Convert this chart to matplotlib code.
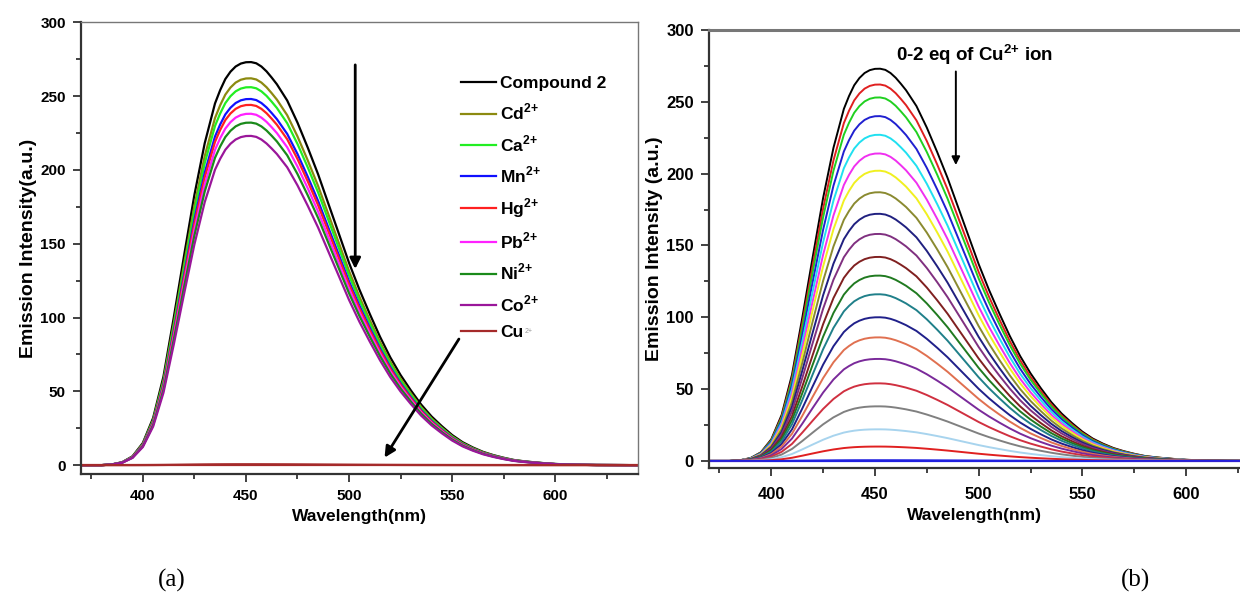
import numpy as np
import matplotlib
matplotlib.use('Agg')
import matplotlib.pyplot as plt
from matplotlib.ticker import MultipleLocator

plt.rcParams['font.family'] = ['Liberation Sans', 'DejaVu Sans']
plt.rcParams['font.weight'] = 'bold'
plt.rcParams['mathtext.fontset'] = 'custom'
plt.rcParams['mathtext.rm'] = 'Liberation Sans:bold'
plt.rcParams['mathtext.bf'] = 'Liberation Sans:bold'

# emission profile of compound 2 (nm, a.u.), peak near 452 nm
wavelength = [370, 380, 385, 390, 395, 400, 405, 410, 415, 420, 425, 430,
              435, 437.5, 440, 442.5, 445, 447.5, 450, 452.5, 455, 457.5,
              460, 462.5, 465, 467.5, 470, 475, 480, 485, 490, 495, 500,
              505, 510, 515, 520, 525, 530, 535, 540, 545, 550, 555, 560,
              565, 570, 575, 580, 585, 590, 595, 600, 610, 620, 640]
profile = [0, 0, 0.5, 2, 6, 15, 32, 60, 100, 142, 183, 218,
           245, 254, 261.5, 266.5, 270, 272, 272.9, 273, 272.2, 270,
           266.7, 262.5, 258, 252.5, 247, 232, 215, 197, 177, 157, 137,
           119, 102.6, 87, 73, 61, 50.6, 41, 33, 26.4, 20.4, 15.6, 12,
           9, 6.8, 5, 3.5, 2.6, 1.9, 1.3, 0.8, 0.3, 0.1, 0]

# (a) metal ion screening: peak intensity for each ion
ions = ['Compound 2', r'Cd$^{\mathbf{2{+}}}$', r'Ca$^{\mathbf{2{+}}}$',
        r'Mn$^{\mathbf{2{+}}}$', r'Hg$^{\mathbf{2{+}}}$', r'Pb$^{\mathbf{2{+}}}$',
        r'Ni$^{\mathbf{2{+}}}$', r'Co$^{\mathbf{2{+}}}$', 'Cu']
ion_peaks = [273, 262, 256, 248, 244, 238, 232, 223, 0.6]
ion_colors = ['black', '#8c8a10', '#22ee22', '#1010ff', '#ff2020',
              '#ff22ff', '#1a8a1a', '#9a169a', '#a52a2a']

# (b) titration with 0-2 eq Cu2+: peak intensity per addition
titr_peaks = [273, 262, 253, 240, 227, 214, 202, 187, 172, 158, 142,
              129, 116, 100, 86, 71, 54, 38, 22, 10, 0.5]
titr_colors = ['black', '#e02020', '#20d020', '#2020d0', '#20e0f0', '#f030f0',
               '#f0f020', '#8a8a30', '#202080', '#803080', '#802020',
               '#207a20', '#20808a', '#20208a', '#e07050', '#7a2a9a',
               '#d03040', '#808080', '#a8d4ee', '#e02020', '#2020e0']

wl = np.array(wavelength)
prof = np.array(profile) / max(profile)


def style_axes(ax, ylabel, ybottom, xmax, right_spine=True):
    ax.set_xlim(370, xmax)
    ax.set_ylim(ybottom, 300)
    ax.xaxis.set_major_locator(MultipleLocator(50))
    ax.xaxis.set_minor_locator(MultipleLocator(25))
    ax.yaxis.set_major_locator(MultipleLocator(50))
    ax.yaxis.set_minor_locator(MultipleLocator(25))
    ax.tick_params(which='both', direction='out', top=False, right=False,
                   labelsize=11, width=1.3, color='#333333')
    ax.tick_params(which='major', length=6, pad=5)
    ax.tick_params(which='minor', length=3.5)
    for side in ['left', 'bottom']:
        ax.spines[side].set_linewidth(1.6)
        ax.spines[side].set_color('#333333')
    ax.spines['top'].set_color('#777777')
    ax.spines['right'].set_color('#777777')
    ax.spines['right'].set_visible(right_spine)
    ax.set_xlabel('Wavelength(nm)', fontsize=12.5, fontweight='bold',
                  labelpad=4)
    ax.set_ylabel(ylabel, fontsize=14, fontweight='bold', labelpad=2)


fig = plt.figure(figsize=(12.4, 5.96), dpi=100)

# panel (a)
ax1 = fig.add_axes([0.0653, 0.2047, 0.449, 0.758])
for name, peak, c in zip(ions, ion_peaks, ion_colors):
    ax1.plot(wl, prof * peak, color=c, lw=1.6, label=name)
ax1.axhline(0, color='#a52a2a', lw=1.6, zorder=1)
style_axes(ax1, 'Emission Intensity(a.u.)', -6, 640)
ax1.spines['top'].set_linewidth(1.0)
ax1.spines['right'].set_linewidth(1.0)
leg = ax1.legend(loc='upper left', bbox_to_anchor=(0.655, 0.915), frameon=False,
                 handlelength=2.0, handletextpad=0.25, labelspacing=0.62,
                 prop={'weight': 'bold', 'size': 12.5})
ax1.annotate('', xy=(503, 131), xytext=(503, 273),
             arrowprops=dict(arrowstyle='-|>', color='black', lw=2,
                             mutation_scale=16))
ax1.annotate('', xy=(516.5, 3.5), xytext=(554, 87),
             arrowprops=dict(arrowstyle='-|>', color='black', lw=2,
                             mutation_scale=16))
# small superscript next to the Cu entry
cu_text = leg.get_texts()[-1]
fig.canvas.draw()
bb = cu_text.get_window_extent()
fig.text(bb.x1 / fig.bbox.width + 0.001, bb.y1 / fig.bbox.height - 0.014,
         '2+', fontsize=5, color='#999999', fontweight='normal')

# panel (b)
ax2 = fig.add_axes([0.5718, 0.2148, 0.4282, 0.735])
for peak, c in zip(titr_peaks, titr_colors):
    ax2.plot(wl, prof * peak, color=c, lw=1.4)
ax2.axhline(0, color='#2020e0', lw=1.6, zorder=1)
style_axes(ax2, 'Emission Intensity (a.u.)', -4.9, 626, right_spine=False)
ax2.spines['top'].set_linewidth(2.2)
ax2.tick_params(labelsize=12)
ax2.tick_params(axis='x', pad=8)
ax2.xaxis.labelpad = 4
ax2.annotate('', xy=(489, 204), xytext=(489, 273),
             arrowprops=dict(arrowstyle='-|>', color='black', lw=1.4,
                             mutation_scale=12))
ax2.text(498, 283, r'0-2 eq of Cu$^{\mathbf{2{+}}}$ ion', ha='center',
         va='center', fontsize=13.5, fontweight='bold')

fig.text(172 / 1240, 1 - 580 / 596, '(a)', fontsize=18, ha='center',
         va='center', family='Liberation Serif', fontweight='normal')
fig.text(1135 / 1240, 1 - 580 / 596, '(b)', fontsize=18, ha='center',
         va='center', family='Liberation Serif', fontweight='normal')

fig.savefig('out.png', dpi=100)
